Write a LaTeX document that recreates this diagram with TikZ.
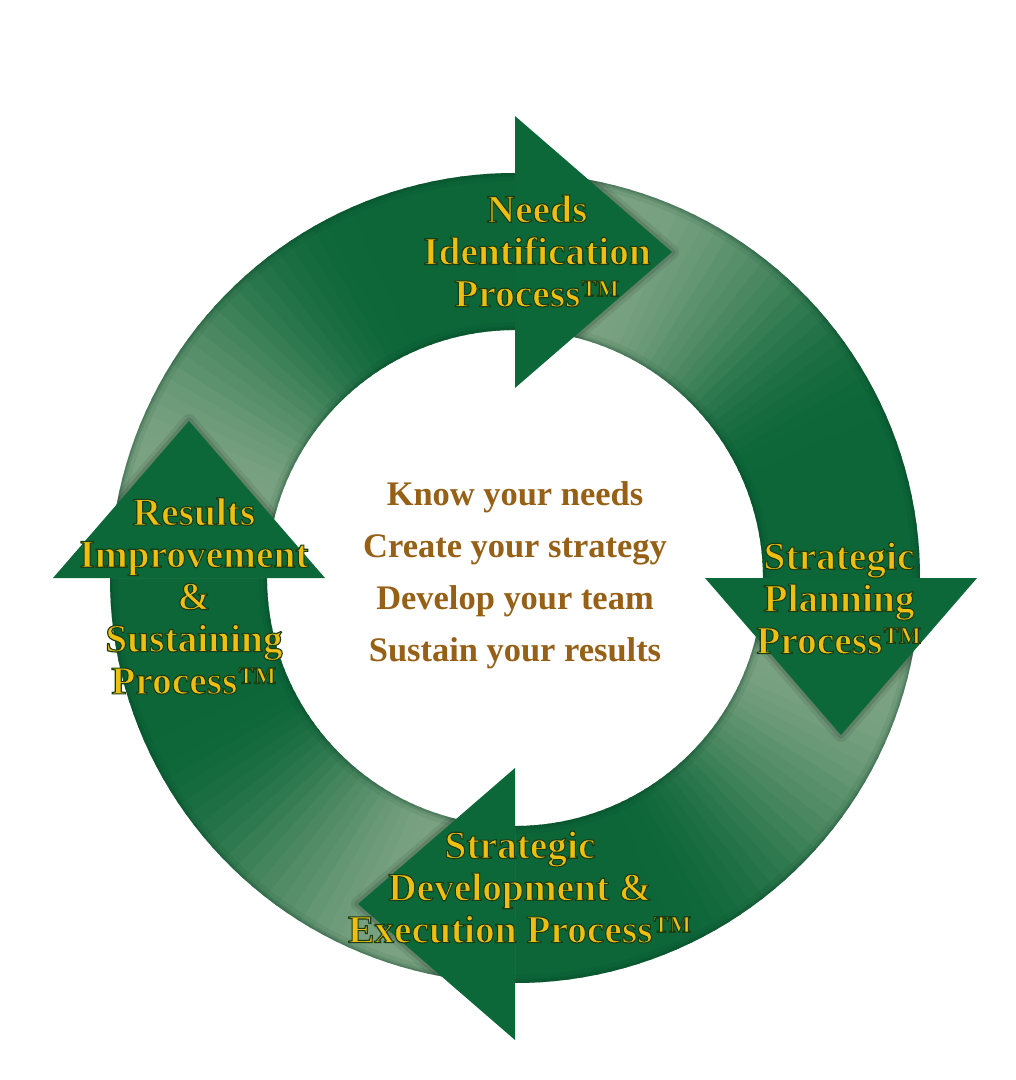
\documentclass[tikz,border=0pt]{standalone}
\usepackage{fontspec}
\setmainfont{Liberation Serif}
\usetikzlibrary{calc}
\definecolor{ringdark}{RGB}{12,102,56}
\definecolor{ringlight}{RGB}{122,162,130}
\definecolor{headgreen}{RGB}{12,104,57}
\definecolor{labelgold}{RGB}{238,190,16}
\definecolor{midbrown}{RGB}{150,96,22}
% gold letters with a thin dark green outline (fill + stroke text render mode)
\newcommand\olx[1]{\special{pdf:literal direct 2 Tr 0.8 w 0.10 0.24 0.08 RG}#1\special{pdf:literal direct 0 Tr}}
\begin{document}
\begin{tikzpicture}[x=0.025cm,y=0.025cm,
  proclabel/.style={align=center,text=labelgold,font=\fontsize{28}{30}\selectfont\bfseries},
  centertext/.style={align=center,text=midbrown,font=\fontsize{24.5}{37}\selectfont\bfseries},
  headshape/.style={fill=headgreen},
  headshadow/.style={draw=black,line join=round}]
\useasboundingbox (0,0) rectangle (1016,-1080);
\fill[white] (0,0) rectangle (1016,-1080);
\coordinate (C) at (515,-578);
\def\Ri{248}
\def\Ro{405}
% ring segments, light just after each arrowhead, dark at the next one
\foreach \a in {90,0,-90,-180}{
  \foreach \i in {0,...,44}{
    \pgfmathsetmacro\aa{\a-2*\i}
    \pgfmathsetmacro\ab{\a-2*\i-2.6}
    \pgfmathsetmacro\s{min(1,max(0,(\i/44-0.18)/0.55))}
    \pgfmathtruncatemacro\p{100*\s*\s*(3-2*\s)}
    \fill[ringdark!\p!ringlight] ($(C)+(\aa:\Ri)$) arc[start angle=\aa,end angle=\ab,radius=\Ri]
      -- ($(C)+(\ab:\Ro)$) arc[start angle=\ab,end angle=\aa,radius=\Ro] -- cycle;
  }
}
% soft rims
\foreach \w/\o in {8/0.08,4/0.12,1.8/0.2}{
  \draw[ringdark!60!black,opacity=\o,line width=\w*0.7pt] (C) circle[radius=\Ro-\w/2];
  \draw[ringdark!60!black,opacity=\o,line width=\w*0.7pt] (C) circle[radius=\Ri+\w/2];
}
% arrowhead points
\foreach \a/\n in {90/hN,0/hE,-90/hS,180/hW}{
  \coordinate (\n-o) at ($(C)+(\a:462)$);
  \coordinate (\n-i) at ($(C)+(\a:190)$);
  \coordinate (\n-t) at ($(C)+(\a:326)+(\a-90:157)$);
}
% soft shadows of the arrowheads on the ring
\begin{scope}[even odd rule]
  \clip (C) circle[radius=\Ro] (C) circle[radius=\Ri];
  \foreach \n in {hN,hE,hS,hW}{
    \draw[headshadow,opacity=0.08,line width=10pt] (\n-o) -- (\n-t) -- (\n-i);
    \draw[headshadow,opacity=0.12,line width=5pt] (\n-o) -- (\n-t) -- (\n-i);
  }
\end{scope}
% arrowheads
\foreach \n in {hN,hE,hS,hW}{
  \fill[headshape] (\n-o) -- (\n-t) -- (\n-i) -- cycle;
}
% labels
\node[proclabel] (needs) at (537,-251) {\olx{Needs}\\\olx{Identification}\\\olx{Process™}};
\node[proclabel] (plan) at (839,-598) {\olx{Strategic}\\\olx{Planning}\\\olx{Process™}};
\node[proclabel] (dev) at (520,-887) {\olx{Strategic}\\\olx{Development \&}\\\olx{Execution Process™}};
\node[proclabel] (res) at (194,-596) {\olx{Results}\\\olx{Improvement}\\\olx{\&}\\\olx{Sustaining}\\\olx{Process™}};
\node[centertext] (mid) at (515,-575) {Know your needs\\Create your strategy\\Develop your team\\Sustain your results};
\end{tikzpicture}
\end{document}
